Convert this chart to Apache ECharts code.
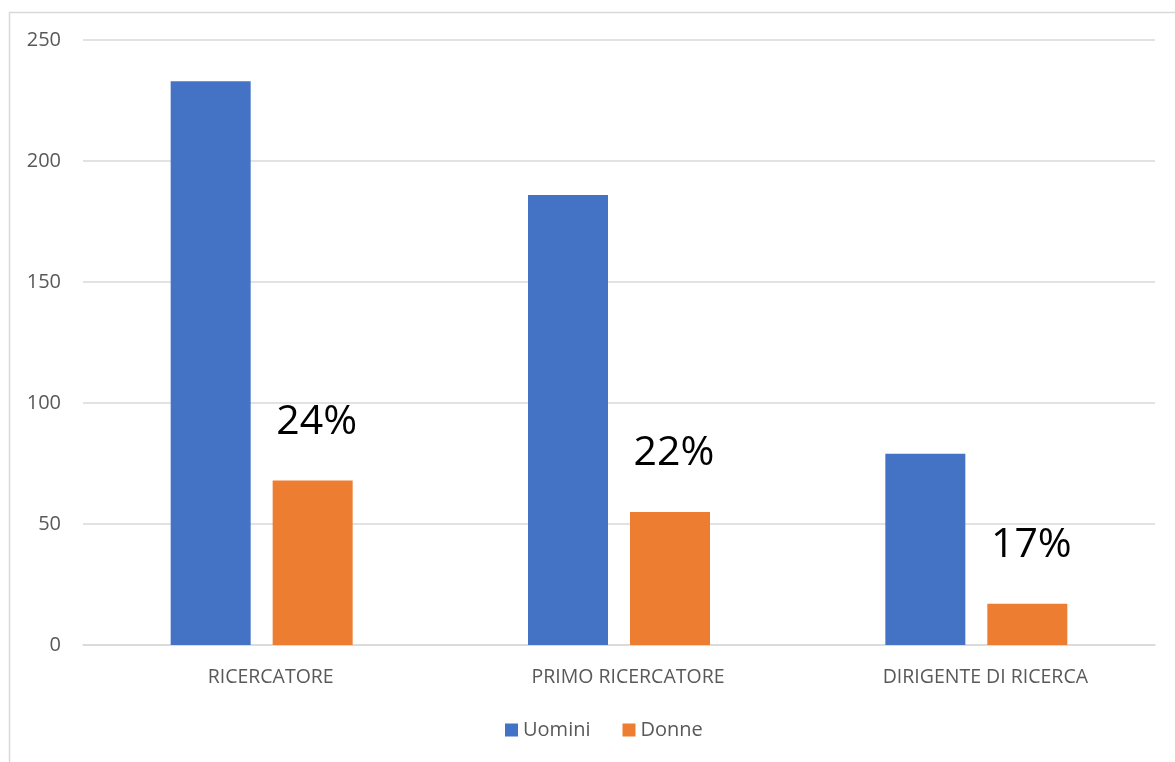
<!DOCTYPE html>
<html>
<head>
<meta charset="utf-8">
<script src="https://cdn.jsdelivr.net/npm/echarts@6/dist/echarts.min.js"></script>
<style>
html,body{margin:0;padding:0;background:#fff;}
#chart{width:1175px;height:762px;}
</style>
</head>
<body>
<div id="chart"></div>
<script>
const categories = ['RICERCATORE', 'PRIMO RICERCATORE', 'DIRIGENTE DI RICERCA'];
const uomini = [233, 186, 79];
const donne = [68, 55, 17];
const donnePercent = ['24%', '22%', '17%'];
const yTicks = [0, 50, 100, 150, 200, 250];

const chart = echarts.init(document.getElementById('chart'), null, {renderer: 'canvas'});
const font = '"Open Sans", "Noto Sans", sans-serif';
chart.setOption({
  animation: false,
  backgroundColor: '#fff',
  graphic: [{
    type: 'rect', left: 7, top: 10, silent: true,
    shape: {width: 1200, height: 800},
    style: {fill: 'none', stroke: '#d9d9d9', lineWidth: 1.5}
  }],
  grid: {left: 83, right: 20, top: 40, bottom: 117, containLabel: false},
  legend: {
    data: ['Uomini', 'Donne'],
    bottom: 17, left: 500,
    itemWidth: 13, itemHeight: 13, itemGap: 32,
    icon: 'rect',
    textStyle: {color: '#595959', fontSize: 20, fontFamily: font}
  },
  xAxis: {
    type: 'category',
    data: categories,
    axisLine: {lineStyle: {color: '#d9d9d9', width: 1.5}},
    axisTick: {show: false},
    axisLabel: {color: '#595959', fontSize: 19.5, fontFamily: font, margin: 22, padding: [0, 0, 0, 18]}
  },
  yAxis: {
    type: 'value',
    min: yTicks[0], max: yTicks[yTicks.length - 1], interval: 50,
    axisLine: {show: false},
    axisTick: {show: false},
    splitLine: {lineStyle: {color: '#d9d9d9', width: 1.5}},
    axisLabel: {color: '#595959', fontSize: 20, fontFamily: font, margin: 22}
  },
  series: [{
    name: 'Uomini', type: 'bar', data: uomini,
    itemStyle: {color: '#4472c4'},
    barWidth: 80, barGap: '27.5%'
  }, {
    name: 'Donne', type: 'bar', data: donne,
    itemStyle: {color: '#ed7d31'},
    barWidth: 80,
    label: {
      show: true, position: 'top', distance: 38,
      formatter: p => donnePercent[p.dataIndex],
      color: '#000', fontSize: 41, fontFamily: font,
      offset: [4, 0]
    }
  }]
});
</script>
</body>
</html>
